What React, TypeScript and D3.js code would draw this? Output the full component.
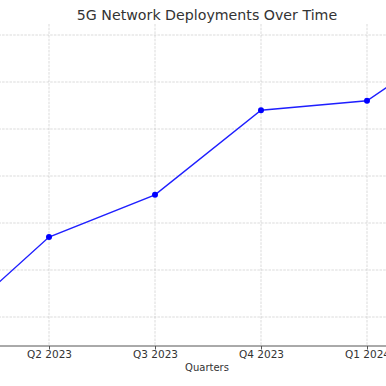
import * as d3 from 'd3'
import React from 'react'

const quarters = ['Q1 2023', 'Q2 2023', 'Q3 2023', 'Q4 2023', 'Q1 2024', 'Q2 2024']
const deployments = [83, 185, 230, 320, 330, 407]
const yTicks = [100, 150, 200, 250, 300, 350, 400]

const W = 386
const H = 386
const font = '"DejaVu Sans", sans-serif'

export default function App() {
    const svgRef = React.useRef<SVGSVGElement | null>(null)

    React.useEffect(() => {
        document.body.style.margin = '0'
        const svg = d3.select(svgRef.current)
        svg.selectAll('*').remove()

        // plot is cropped, first and last quarter fall outside the view
        const x = d3.scalePoint<string>().domain(quarters).range([-57, 473]).padding(0)
        const y = d3.scaleLinear().domain([100, 400]).range([317, 35])
        const bottom = 346
        const top = 24

        // grid
        const grid = svg.append('g')
        grid.selectAll('line.h')
            .data(yTicks)
            .join('line')
            .attr('class', 'h')
            .attr('x1', -120)
            .attr('x2', W + 20)
            .attr('y1', (d) => y(d))
            .attr('y2', (d) => y(d))
        grid.selectAll('line.v')
            .data(quarters)
            .join('line')
            .attr('class', 'v')
            .attr('x1', (d) => x(d) || 0)
            .attr('x2', (d) => x(d) || 0)
            .attr('y1', top)
            .attr('y2', bottom)
        grid.selectAll('line')
            .attr('stroke', '#b0b0b0')
            .attr('stroke-opacity', 0.6)
            .attr('stroke-width', 0.8)
            .attr('stroke-dasharray', '2.5,1.2')

        // x axis
        const xAxis = svg
            .append('g')
            .attr('transform', `translate(0,${bottom})`)
            .call(d3.axisBottom(x).tickSize(3.5).tickPadding(1.5))
        xAxis.select('.domain').attr('stroke', '#555').attr('stroke-width', 1).attr('d', `M-120,0H${W + 20}`)
        xAxis.selectAll('line').attr('stroke', '#555')
        xAxis.selectAll('text').attr('fill', '#333').style('font-family', font).style('font-size', '10.5px')

        svg.append('text')
            .attr('x', 207)
            .attr('y', 371)
            .attr('text-anchor', 'middle')
            .attr('fill', '#333')
            .style('font-family', font)
            .style('font-size', '10px')
            .text('Quarters')

        svg.append('text')
            .attr('x', 207)
            .attr('y', 20)
            .attr('text-anchor', 'middle')
            .attr('fill', '#333')
            .style('font-family', font)
            .style('font-size', '14.2px')
            .text('5G Network Deployments Over Time')

        // line + markers
        const line = d3
            .line<number>()
            .x((d, i) => x(quarters[i]) || 0)
            .y((d) => y(d))
        svg.append('path')
            .datum(deployments)
            .attr('d', line)
            .attr('fill', 'none')
            .attr('stroke', '#1f1fff')
            .attr('stroke-width', 1.4)
        svg.selectAll('circle')
            .data(deployments)
            .join('circle')
            .attr('cx', (d, i) => x(quarters[i]) || 0)
            .attr('cy', (d) => y(d))
            .attr('r', 3)
            .attr('fill', '#0000ff')
    }, [])

    return <svg ref={svgRef} width={W} height={H} style={{ display: 'block', background: '#fff' }} />
}
